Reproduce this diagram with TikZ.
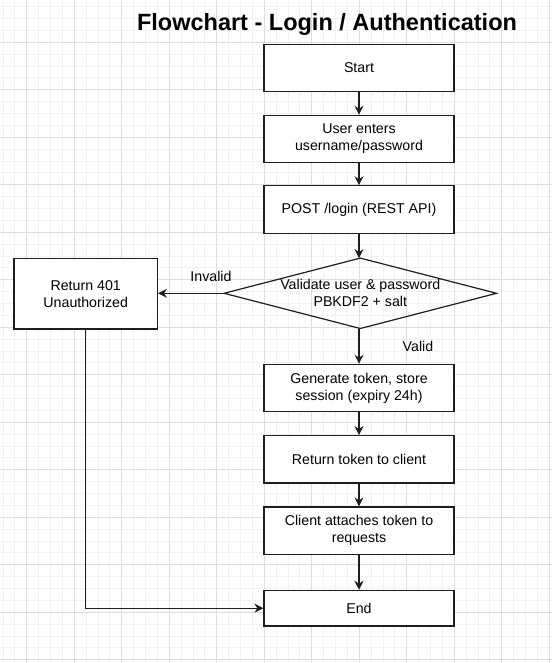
\documentclass[tikz,border=0pt]{standalone}
\usepackage{fontspec}
\setmainfont{Liberation Sans}
\usetikzlibrary{arrows.meta}

\definecolor{gridminor}{RGB}{242,242,242}
\definecolor{gridmajor}{RGB}{222,222,222}
\definecolor{edge}{RGB}{30,30,30}

\tikzset{
  minorline/.style={draw=gridminor, line width=0.9pt},
  majorline/.style={draw=gridmajor, line width=0.9pt},
  stepbox/.style={draw=edge, line width=1.2pt, fill=white, minimum width=190pt,
    minimum height=47.4pt, inner sep=0pt, align=center,
    font=\fontsize{14.2}{17}\selectfont},
  flowarrow/.style={draw=edge, line width=1.2pt,
    -{Stealth[length=9pt, width=9pt, inset=3pt]}},
  edgelabel/.style={font=\fontsize{14.2}{17}\selectfont, inner sep=0pt},
}

\begin{document}
\begin{tikzpicture}[x=1pt, y=-1pt]
  \useasboundingbox (0,0) rectangle (552,663);
  \fill[white] (0,0) rectangle (552,663);

  % background grid: fine lines, then every fourth line darker
  \begin{scope}
    \clip (0,0) rectangle (552,663);
    \foreach \k in {0,...,50} {
      \draw[minorline] ({-20.8+11.875*\k},0) -- ++(0,663);
    }
    \foreach \k in {0,...,58} {
      \draw[minorline] (0,{-5.2+11.875*\k}) -- ++(552,0);
    }
    \foreach \k in {0,...,12} {
      \draw[majorline] ({-20.8+47.5*\k},0) -- ++(0,663);
    }
    \foreach \k in {0,...,14} {
      \draw[majorline] (0,{-5.2+47.5*\k}) -- ++(552,0);
    }
  \end{scope}

  % title
  \node[anchor=base, inner sep=0pt, font=\fontsize{23.5}{28}\selectfont\bfseries]
    (title) at (327,31) {Flowchart - Login / Authentication};

  % process steps
  \node[stepbox] (start) at (359,68) {Start};
  \node[stepbox] (enter) at (359,139) {User enters\\username/password};
  \node[stepbox] (post)  at (359,209.5) {POST /login (REST API)};

  % decision
  \node[minimum width=272pt, minimum height=70pt, inner sep=0pt, align=center,
        font=\fontsize{14.2}{17}\selectfont] (check) at (360.3,293.3)
        {Validate user \& password\\PBKDF2 + salt};
  \draw[draw=edge, line width=1.2pt, line join=miter]
    (check.north) -- (check.east) -- (check.south) -- (check.west) -- cycle;

  \node[stepbox, minimum width=143.3pt, minimum height=70.7pt] (deny)
    at (85.7,293.7) {Return 401\\Unauthorized};

  \node[stepbox] (token)  at (359,388) {Generate token, store\\session (expiry 24h)};
  \node[stepbox] (reply)  at (359,459.3) {Return token to client};
  \node[stepbox] (attach) at (359,530.7) {Client attaches token to\\requests};
  \node[stepbox, minimum height=35.7pt] (finish) at (359,608.2) {End};

  % connectors
  \draw[flowarrow] (start) -- (enter);
  \draw[flowarrow] (enter) -- (post);
  \draw[flowarrow] (post.south) -- (post.south |- check.north);
  \draw[flowarrow] (check.west) -- (check.west -| deny.east);
  \draw[flowarrow] (check.south -| token.north) -- (token.north);
  \draw[flowarrow] (token) -- (reply);
  \draw[flowarrow] (reply) -- (attach);
  \draw[flowarrow] (attach) -- (finish);
  \draw[flowarrow] (deny.south) |- (finish.west);

  % branch labels
  \node[edgelabel] (invalid) at (211,276) {Invalid};
  \node[edgelabel] (valid) at (418,346) {Valid};
\end{tikzpicture}
\end{document}
